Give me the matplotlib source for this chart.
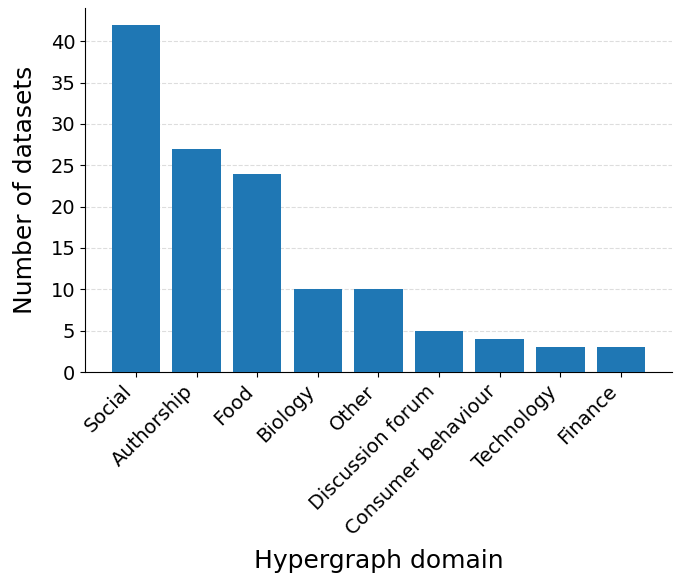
import matplotlib
matplotlib.use("Agg")
import matplotlib.pyplot as plt

dominios = ["Social", "Authorship", "Food", "Biology", "Other",
            "Discussion forum", "Consumer behaviour", "Technology", "Finance"]
cantidades = [42, 27, 24, 10, 10, 5, 4, 3, 3]

fig, ax = plt.subplots(figsize=(6.8, 5.76), dpi=100)
ax.bar(dominios, cantidades, color="#1f77b4", zorder=3)
ax.set_xlabel("Hypergraph domain", fontsize=18, labelpad=7)
ax.set_ylabel("Number of datasets", fontsize=18, labelpad=10)
ax.set_yticks(range(0, 45, 5))
ax.set_ylim(0, 44)
ax.tick_params(axis="both", labelsize=14)
plt.setp(ax.get_xticklabels(), rotation=45, ha="right")
ax.grid(axis="y", linestyle="--", color="#dddddd", linewidth=0.8, zorder=0)
ax.spines["top"].set_visible(False)
ax.spines["right"].set_visible(False)
fig.subplots_adjust(left=0.125, right=0.988, top=0.986, bottom=0.354)
fig.savefig("out.png")
